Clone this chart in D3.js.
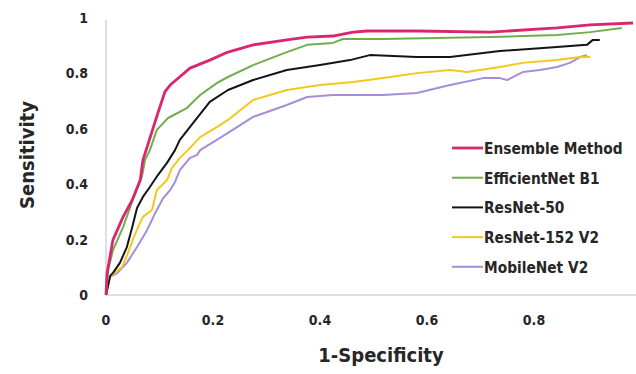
<!DOCTYPE html>
<html lang="en">
<head>
    <meta charset="UTF-8">
    <title>ROC curves</title>
    <script src="https://d3js.org/d3.v7.min.js"></script>
    <style>
        body {
            margin: 0;
            padding: 0;
            background-color: #fff;
        }
        svg text {
            font-family: "DejaVu Sans Condensed", "Liberation Sans Narrow", Arial, sans-serif;
            font-weight: bold;
            fill: #262626;
        }
    </style>
</head>
<body>
    <svg id="chart" width="636" height="374"></svg>

    <script>
        // series names and colours
        const seriesNames = ['Ensemble Method', 'EfficientNet B1', 'ResNet-50', 'ResNet-152 V2', 'MobileNet V2'];
        const seriesColors = ['#d9266f', '#72ad4c', '#141414', '#f4c81a', '#a58ed6'];

        const xTicks = [0, 0.2, 0.4, 0.6, 0.8, 1];
        const yTicks = [0, 0.2, 0.4, 0.6, 0.8, 1];

        // [1-specificity, sensitivity]
        const ensemble = [
            [0, 0], [0.002, 0.079], [0.013, 0.199], [0.032, 0.282], [0.049, 0.343], [0.064, 0.415],
            [0.069, 0.487], [0.097, 0.657], [0.110, 0.733], [0.120, 0.758], [0.157, 0.819],
            [0.194, 0.848], [0.228, 0.877], [0.275, 0.903], [0.338, 0.921], [0.376, 0.931],
            [0.424, 0.935], [0.462, 0.949], [0.488, 0.953], [0.581, 0.953], [0.718, 0.949],
            [0.843, 0.964], [0.905, 0.975], [0.985, 0.982]
        ];
        const efficientNet = [
            [0, 0], [0.004, 0.090], [0.013, 0.162], [0.032, 0.245], [0.050, 0.343], [0.067, 0.426],
            [0.073, 0.487], [0.082, 0.523], [0.095, 0.596], [0.116, 0.639], [0.151, 0.675],
            [0.176, 0.722], [0.207, 0.765], [0.228, 0.787], [0.275, 0.830], [0.338, 0.877],
            [0.376, 0.903], [0.424, 0.910], [0.443, 0.924], [0.518, 0.924], [0.718, 0.931],
            [0.843, 0.939], [0.905, 0.949], [0.964, 0.964]
        ];
        const resNet50 = [
            [0, 0], [0.008, 0.070], [0.013, 0.080], [0.026, 0.116], [0.039, 0.173], [0.049, 0.245],
            [0.058, 0.314], [0.069, 0.354], [0.082, 0.390], [0.097, 0.433], [0.114, 0.477],
            [0.129, 0.523], [0.138, 0.560], [0.163, 0.621], [0.194, 0.697], [0.228, 0.740],
            [0.275, 0.776], [0.338, 0.812], [0.400, 0.830], [0.456, 0.848], [0.493, 0.866],
            [0.581, 0.859], [0.643, 0.859], [0.736, 0.881], [0.843, 0.895], [0.899, 0.903],
            [0.910, 0.921], [0.923, 0.921]
        ];
        const resNet152 = [
            [0, 0], [0.007, 0.065], [0.030, 0.101], [0.041, 0.152], [0.050, 0.199], [0.060, 0.245],
            [0.069, 0.282], [0.086, 0.307], [0.095, 0.379], [0.105, 0.397], [0.114, 0.415],
            [0.123, 0.458], [0.138, 0.495], [0.153, 0.523], [0.176, 0.570], [0.207, 0.606],
            [0.228, 0.632], [0.275, 0.704], [0.338, 0.740], [0.400, 0.758], [0.462, 0.769],
            [0.518, 0.783], [0.581, 0.801], [0.643, 0.812], [0.675, 0.805], [0.736, 0.823],
            [0.779, 0.838], [0.843, 0.848], [0.886, 0.859], [0.905, 0.859]
        ];
        const mobileNet = [
            [0, 0], [0.007, 0.065], [0.021, 0.079], [0.039, 0.116], [0.058, 0.173], [0.077, 0.235],
            [0.092, 0.296], [0.107, 0.350], [0.120, 0.379], [0.129, 0.408], [0.138, 0.451],
            [0.157, 0.495], [0.170, 0.505], [0.176, 0.523], [0.207, 0.560], [0.228, 0.585],
            [0.275, 0.643], [0.338, 0.686], [0.376, 0.715], [0.424, 0.722], [0.518, 0.722],
            [0.581, 0.729], [0.643, 0.758], [0.705, 0.783], [0.736, 0.783], [0.750, 0.776],
            [0.779, 0.805], [0.811, 0.812], [0.843, 0.823], [0.867, 0.838], [0.886, 0.859],
            [0.899, 0.866]
        ];
        const seriesData = [ensemble, efficientNet, resNet50, resNet152, mobileNet];

        const svg = d3.select('#chart');

        const x = d3.scaleLinear().domain([0, 1]).range([106, 641]);
        const y = d3.scaleLinear().domain([0, 1]).range([295, 18]);

        // axis lines
        svg.append('line')
            .attr('x1', x(0)).attr('x2', x(0))
            .attr('y1', y(1) + 2).attr('y2', y(0))
            .attr('stroke', '#d4d4d4').attr('stroke-width', 1.5);
        svg.append('line')
            .attr('x1', x(0)).attr('x2', 636)
            .attr('y1', y(0)).attr('y2', y(0))
            .attr('stroke', '#d4d4d4').attr('stroke-width', 1.5);

        // tick labels
        svg.selectAll('.ytick')
            .data(yTicks)
            .enter()
            .append('text')
            .attr('class', 'ytick')
            .attr('x', 88)
            .attr('y', d => y(d) + 5)
            .attr('text-anchor', 'end')
            .attr('font-size', 14)
            .text(d => d3.format('~g')(d));

        // the last label runs off the right edge, as in the source picture
        svg.selectAll('.xtick')
            .data(xTicks)
            .enter()
            .append('text')
            .attr('class', 'xtick')
            .attr('x', d => x(d))
            .attr('y', 325)
            .attr('text-anchor', 'middle')
            .attr('font-size', 14)
            .text(d => d3.format('~g')(d));

        // axis titles
        svg.append('text')
            .attr('transform', 'translate(34,155) rotate(-90)')
            .attr('text-anchor', 'middle')
            .attr('font-size', 20)
            .text('Sensitivity');
        svg.append('text')
            .attr('x', 381)
            .attr('y', 362)
            .attr('text-anchor', 'middle')
            .attr('font-size', 20)
            .text('1-Specificity');

        // curves
        const line = d3.line()
            .x(d => x(d[0]))
            .y(d => y(d[1]));

        // draw back to front so the ensemble sits on top
        d3.range(seriesData.length - 1, -1, -1).forEach(i => {
            svg.append('path')
                .datum(seriesData[i])
                .attr('d', line)
                .attr('fill', 'none')
                .attr('stroke', seriesColors[i])
                .attr('stroke-width', i === 0 ? 2.8 : 2)
                .attr('stroke-linejoin', 'round');
        });

        // legend
        const legend = svg.selectAll('.legend')
            .data(seriesNames)
            .enter()
            .append('g')
            .attr('class', 'legend')
            .attr('transform', (d, i) => `translate(452, ${148 + i * 29.7})`);

        legend.append('line')
            .attr('x1', 0).attr('x2', 31)
            .attr('stroke', (d, i) => seriesColors[i])
            .attr('stroke-width', (d, i) => i === 0 ? 2.8 : 2);

        legend.append('text')
            .attr('x', 32)
            .attr('y', 6)
            .attr('font-size', 15.3)
            .text(d => d);
    </script>
</body>
</html>
